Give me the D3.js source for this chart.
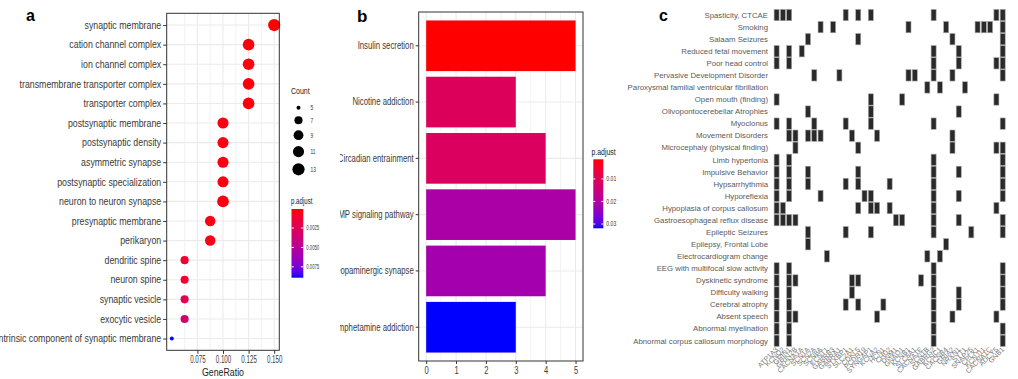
<!DOCTYPE html>
<html>
<head>
<meta charset="utf-8">
<script src="https://cdn.jsdelivr.net/npm/d3@7"></script>
<style>
  body { margin: 0; background: #fff; }
  svg { display: block; }
</style>
</head>
<body>
<div id="chart"></div>
<script>
// ---- panel a: GO terms (dot plot) ----
const goTerms = [
  'synaptic membrane', 'cation channel complex', 'ion channel complex',
  'transmembrane transporter complex', 'transporter complex', 'postsynaptic membrane',
  'postsynaptic density', 'asymmetric synapse', 'postsynaptic specialization',
  'neuron to neuron synapse', 'presynaptic membrane', 'perikaryon', 'dendritic spine',
  'neuron spine', 'synaptic vesicle', 'exocytic vesicle',
  'intrinsic component of synaptic membrane'
];
const goRatio = [0.15, 0.125, 0.125, 0.125, 0.125, 0.1, 0.1, 0.1, 0.1, 0.1,
  0.0875, 0.0875, 0.0625, 0.0625, 0.0625, 0.0625, 0.05];
const goCount = [13, 12, 12, 12, 12, 11, 11, 11, 11, 12, 10, 10, 7, 7, 7, 7, 5];
const goPadj = [0.00005, 0.0002, 0.0002, 0.0002, 0.0002, 0.0003, 0.0003, 0.0003, 0.0003,
  0.0003, 0.0004, 0.0004, 0.0012, 0.0013, 0.0022, 0.0035, 0.0089];
const goRatioTicks = [0.075, 0.1, 0.125, 0.15];
const countBreaks = [5, 7, 9, 11, 13];
const goPadjTicks = [0.0025, 0.005, 0.0075];

// ---- panel b: KEGG pathways (bar plot) ----
const keggTerms = ['Insulin secretion', 'Nicotine addiction', 'Circadian entrainment',
  'cAMP signaling pathway', 'Dopaminergic synapse', 'Amphetamine addiction'];
const keggCount = [5, 3, 4, 5, 4, 3];
const keggPadj = [0.0013, 0.0105, 0.011, 0.0205, 0.0215, 0.0319];
const keggCountTicks = [0, 1, 2, 3, 4, 5];
const keggPadjTicks = [0.01, 0.02, 0.03];

// ---- panel c: disease / gene matrix ----
const diseases = [
  'Spasticity, CTCAE', 'Smoking', 'Salaam Seizures', 'Reduced fetal movement',
  'Poor head control', 'Pervasive Development Disorder',
  'Paroxysmal familial ventricular fibrillation', 'Open mouth (finding)',
  'Olivopontocerebellar Atrophies', 'Myoclonus', 'Movement Disorders',
  'Microcephaly (physical finding)', 'Limb hypertonia', 'Impulsive Behavior',
  'Hypsarrhythmia', 'Hyporeflexia', 'Hypoplasia of corpus callosum',
  'Gastroesophageal reflux disease', 'Epileptic Seizures', 'Epilepsy, Frontal Lobe',
  'Electrocardiogram change', 'EEG with multifocal slow activity', 'Dyskinetic syndrome',
  'Difficulty walking', 'Cerebral atrophy', 'Absent speech', 'Abnormal myelination',
  'Abnormal corpus callosum morphology'
];
const genes = ['ATP1A3', 'KCNQ2', 'GRIN1', 'GRIN2B', 'CACNA1A', 'SCN1A', 'SCN2A', 'SCN8A',
  'KCNT1', 'GABRB3', 'GABRA1', 'STXBP1', 'SLC2A1', 'CDKL5', 'PCDH19', 'SYNGAP1', 'KCNA2',
  'HCN1', 'CHD2', 'DNM1', 'GNAO1', 'KCNB1', 'SLC6A1', 'CACNA1E', 'SCN1B', 'GABRG2',
  'KCNC1', 'CACNB4', 'GRIA2', 'NRXN1', 'SYT1', 'SNAP25', 'CPLX1', 'KCNJ11', 'CACNA1C',
  'ADCY5', 'GNB1'];
// gene indices linked to each disease (same order as diseases)
const diseaseGenes = [
  [0, 1, 2, 11, 13, 15, 25, 35, 36],
  [7, 9, 21, 27, 32, 33, 34, 36],
  [5, 13, 28, 36],
  [0, 2, 4, 25, 29, 36],
  [0, 2, 25, 29, 35, 36],
  [6, 10, 21, 22, 25, 28, 36],
  [24, 26, 30],
  [0, 15, 20, 35],
  [5, 15, 29],
  [0, 2, 6, 11, 15, 25, 36],
  [2, 3, 5, 6, 7, 12, 16, 28],
  [3, 13, 28, 35, 36],
  [0, 2, 25, 36],
  [0, 2, 5, 13, 25, 29, 36],
  [0, 2, 5, 11, 13, 18, 25, 36],
  [0, 2, 7, 14, 15, 25, 29, 36],
  [0, 1, 13, 15, 16, 18, 25, 35],
  [0, 1, 2, 3, 19, 20, 25, 29, 36],
  [5, 11, 15, 25, 31, 36],
  [5, 27],
  [8, 24, 26],
  [0, 2, 25, 36],
  [0, 2, 3, 12, 13, 23, 25, 36],
  [0, 2, 12, 25, 29, 36],
  [0, 2, 11, 13, 17, 25, 29, 36],
  [0, 2, 3, 16, 25, 28, 35],
  [0, 2, 25, 36],
  [0, 2, 25, 36]
];

const W = 1018, H = 379;
const font = "'Liberation Sans', Arial, sans-serif";
const gridMajor = '#ebebeb';

const svg = d3.select('#chart')
  .append('svg')
  .attr('width', W)
  .attr('height', H)
  .attr('viewBox', `0 0 ${W} ${H}`)
  .style('font-family', font);

const defs = svg.append('defs');

// expand a continuous domain by 5% each side, like ggplot
const expand = ([lo, hi], f = 0.05) => [lo - (hi - lo) * f, hi + (hi - lo) * f];

// the source figure is squeezed horizontally, so text gets an x-scale
const label = (g, x, y, txt, size, sx, opts = {}) => g.append('text')
  .attr('transform', `translate(${x},${y}) scale(${sx},1)`)
  .attr('dy', opts.dy || null)
  .attr('text-anchor', opts.anchor || 'start')
  .style('font-size', size + 'px')
  .style('font-weight', opts.weight || null)
  .attr('fill', opts.fill || '#222')
  .text(txt);

const styleAxis = (g, size, sx) => {
  g.select('.domain').remove();
  g.attr('font-family', null).attr('font-size', null);
  g.selectAll('line').attr('stroke', '#333');
  g.selectAll('.tick text')
    .attr('fill', '#3a3a3a')
    .style('font-size', size + 'px')
    .each(function () {
      const t = d3.select(this);
      const x = +t.attr('x') || 0;
      t.attr('transform', `translate(${x},0) scale(${sx},1)`).attr('x', 0);
    });
};

const gradientLegend = (g, id, color, ticks, box, fmt, size, sx) => {
  const domain = color.domain();
  const grad = defs.append('linearGradient')
    .attr('id', id)
    .attr('x1', 0).attr('y1', 0).attr('x2', 0).attr('y2', 1);
  d3.range(0, 1.0001, 0.05).forEach(t => {
    grad.append('stop')
      .attr('offset', t)
      .attr('stop-color', color(domain[0] + t * (domain[1] - domain[0])));
  });
  g.append('rect')
    .attr('x', box.x).attr('y', box.y)
    .attr('width', box.w).attr('height', box.h)
    .attr('fill', `url(#${id})`);
  const ly = d3.scaleLinear().domain(domain).range([box.y, box.y + box.h]);
  ticks.forEach(t => {
    [[box.x, box.x + box.w / 5], [box.x + box.w * 4 / 5, box.x + box.w]].forEach(([x1, x2]) => {
      g.append('line')
        .attr('x1', x1).attr('x2', x2)
        .attr('y1', ly(t)).attr('y2', ly(t))
        .attr('stroke', '#fff').attr('stroke-width', 1);
    });
    label(g, box.x + box.w + 3, ly(t), fmt(t), size, sx, { dy: '0.35em', fill: '#333' });
  });
};

// ================= panel a =================
{
  const p = { left: 166.7, right: 279.3, top: 13.3, bottom: 350.3 };
  const g = svg.append('g').attr('class', 'panel-a');

  const x = d3.scaleLinear().domain(expand(d3.extent(goRatio))).range([p.left, p.right]);
  const y = d3.scalePoint().domain(goTerms).range([p.top, p.bottom]).padding(0.6);
  const color = d3.scaleLinear().domain(d3.extent(goPadj))
    .range(['#ff0000', '#0000ff']).interpolate(d3.interpolateLab);
  const countMin = d3.min(goCount);
  const size = d3.scaleSqrt().domain([0, d3.max(countBreaks) - countMin]).range([2, 6.1]);
  const r = c => size(c - countMin);

  // gridlines
  const step = goRatioTicks[1] - goRatioTicks[0];
  const minor = [goRatioTicks[0] - step / 2, ...goRatioTicks.map(t => t + step / 2)]
    .filter(t => t > x.domain()[0] && t < x.domain()[1]);
  g.selectAll('.minor').data(minor).enter().append('line')
    .attr('x1', d => x(d)).attr('x2', d => x(d))
    .attr('y1', p.top).attr('y2', p.bottom)
    .attr('stroke', gridMajor).attr('stroke-width', 0.6);
  g.selectAll('.vmajor').data(goRatioTicks).enter().append('line')
    .attr('x1', d => x(d)).attr('x2', d => x(d))
    .attr('y1', p.top).attr('y2', p.bottom)
    .attr('stroke', gridMajor).attr('stroke-width', 1.1);
  g.selectAll('.hmajor').data(goTerms).enter().append('line')
    .attr('x1', p.left).attr('x2', p.right)
    .attr('y1', d => y(d)).attr('y2', d => y(d))
    .attr('stroke', gridMajor).attr('stroke-width', 1.1);

  // dots
  g.selectAll('.dot').data(goTerms).enter().append('circle')
    .attr('cx', (d, i) => x(goRatio[i]))
    .attr('cy', d => y(d))
    .attr('r', (d, i) => r(goCount[i]))
    .attr('fill', (d, i) => color(goPadj[i]));

  g.append('rect')
    .attr('x', p.left).attr('y', p.top)
    .attr('width', p.right - p.left).attr('height', p.bottom - p.top)
    .attr('fill', 'none').attr('stroke', '#333').attr('stroke-width', 1);

  g.append('g')
    .attr('transform', `translate(${p.left},0)`)
    .call(d3.axisLeft(y).tickSize(3.5).tickPadding(2))
    .call(ax => styleAxis(ax, 10, 0.88));

  g.append('g')
    .attr('transform', `translate(0,${p.bottom})`)
    .call(d3.axisBottom(x).tickValues(goRatioTicks).tickFormat(d3.format('.3f'))
      .tickSize(3.5).tickPadding(2.5))
    .call(ax => styleAxis(ax, 10, 0.62));

  label(g, (p.left + p.right) / 2, 376, 'GeneRatio', 11, 0.8, { anchor: 'middle' });
  label(g, 26, 21, 'a', 16, 1, { weight: 'bold', fill: '#000' });

  // Count legend
  label(g, 291, 94, 'Count', 9, 0.78);
  let ly = 107.7, prevH = null;
  countBreaks.forEach(c => {
    const h = Math.max(11, 2 * r(c) + 6);
    if (prevH !== null) ly += (prevH + h) / 2;
    prevH = h;
    g.append('circle').attr('cx', 298.5).attr('cy', ly).attr('r', r(c)).attr('fill', '#000');
    label(g, 310.5, ly, c, 7.5, 0.65, { dy: '0.35em', fill: '#333' });
  });

  // p.adjust legend
  label(g, 291, 204, 'p.adjust', 9, 0.68);
  gradientLegend(g, 'grad-a', color, goPadjTicks,
    { x: 291.5, y: 209, w: 11.8, h: 68.7 }, d3.format('.4f'), 7, 0.6);
}

// ================= panel b =================
{
  const p = { left: 418.7, right: 583, top: 12, bottom: 361 };
  defs.append('clipPath').attr('id', 'clip-b')
    .append('rect').attr('x', 340).attr('y', 0).attr('width', 300).attr('height', H);
  const g = svg.append('g').attr('class', 'panel-b').attr('clip-path', 'url(#clip-b)');

  const x = d3.scaleLinear().domain(expand([0, d3.max(keggCount)])).range([p.left, p.right]);
  const y = d3.scaleBand().domain(keggTerms).range([p.top, p.bottom])
    .paddingInner(0.1).paddingOuter(0.15);
  const color = d3.scaleLinear().domain(d3.extent(keggPadj))
    .range(['#ff0000', '#0000ff']).interpolate(d3.interpolateLab);

  const minor = d3.range(keggCountTicks[0] + 0.5, d3.max(keggCountTicks), 1);
  g.selectAll('.minor').data(minor).enter().append('line')
    .attr('x1', d => x(d)).attr('x2', d => x(d))
    .attr('y1', p.top).attr('y2', p.bottom)
    .attr('stroke', gridMajor).attr('stroke-width', 0.6);
  g.selectAll('.vmajor').data(keggCountTicks).enter().append('line')
    .attr('x1', d => x(d)).attr('x2', d => x(d))
    .attr('y1', p.top).attr('y2', p.bottom)
    .attr('stroke', gridMajor).attr('stroke-width', 1.1);
  g.selectAll('.hmajor').data(keggTerms).enter().append('line')
    .attr('x1', p.left).attr('x2', p.right)
    .attr('y1', d => y(d) + y.bandwidth() / 2).attr('y2', d => y(d) + y.bandwidth() / 2)
    .attr('stroke', gridMajor).attr('stroke-width', 1.1);

  g.selectAll('.bar').data(keggTerms).enter().append('rect')
    .attr('x', x(0))
    .attr('y', d => y(d))
    .attr('width', (d, i) => x(keggCount[i]) - x(0))
    .attr('height', y.bandwidth())
    .attr('fill', (d, i) => color(keggPadj[i]));

  g.append('rect')
    .attr('x', p.left).attr('y', p.top)
    .attr('width', p.right - p.left).attr('height', p.bottom - p.top)
    .attr('fill', 'none').attr('stroke', '#333').attr('stroke-width', 1);

  g.append('g')
    .attr('transform', `translate(${p.left},0)`)
    .call(d3.axisLeft(y).tickSize(3).tickPadding(2))
    .call(ax => styleAxis(ax, 10.5, 0.74));

  g.append('g')
    .attr('transform', `translate(0,${p.bottom})`)
    .call(d3.axisBottom(x).tickValues(keggCountTicks).tickFormat(d3.format('d'))
      .tickSize(3).tickPadding(2.5))
    .call(ax => styleAxis(ax, 10.5, 0.72));

  label(g, 357, 22, 'b', 17, 1, { weight: 'bold', fill: '#000' });

  label(g, 591.5, 155, 'p.adjust', 9, 0.77);
  gradientLegend(g, 'grad-b', color, keggPadjTicks,
    { x: 593.3, y: 159.3, w: 10, h: 69 }, d3.format('.2f'), 7, 0.73);
}

// ================= panel c =================
{
  const g = svg.append('g').attr('class', 'panel-c');
  const pitchX = 6.314, pitchY = 12.09;
  const x0 = 776, y0 = 14.7;
  const x = d3.scaleBand().domain(genes)
    .range([x0 - pitchX / 2, x0 + (genes.length - 0.5) * pitchX]).padding(0.2);
  const y = d3.scaleBand().domain(diseases)
    .range([y0 - pitchY / 2, y0 + (diseases.length - 0.5) * pitchY]).padding(0.06);

  const cells = diseases.flatMap((d, i) => diseaseGenes[i].map(k => ({ disease: d, gene: genes[k] })));
  g.selectAll('.cell').data(cells).enter().append('rect')
    .attr('x', d => x(d.gene))
    .attr('y', d => y(d.disease))
    .attr('width', x.bandwidth())
    .attr('height', y.bandwidth())
    .attr('fill', '#2a2a2a')
    .attr('stroke', '#a8a8a8')
    .attr('stroke-width', 0.6);

  g.selectAll('.row-label').data(diseases).enter().append('text')
    .attr('x', 768)
    .attr('y', d => y(d) + y.bandwidth() / 2)
    .attr('dy', '0.35em')
    .attr('text-anchor', 'end')
    .style('font-size', '7.8px')
    .attr('fill', '#5a5a5a')
    .text(d => d);

  g.selectAll('.col-label').data(genes).enter().append('text')
    .attr('transform', d => `translate(${x(d) + x.bandwidth() / 2 + 2},${350}) rotate(-45)`)
    .attr('text-anchor', 'end')
    .style('font-size', '7px')
    .attr('fill', '#777')
    .text(d => d);

  label(g, 659, 21, 'c', 16, 1, { weight: 'bold', fill: '#000' });
}
</script>
</body>
</html>
